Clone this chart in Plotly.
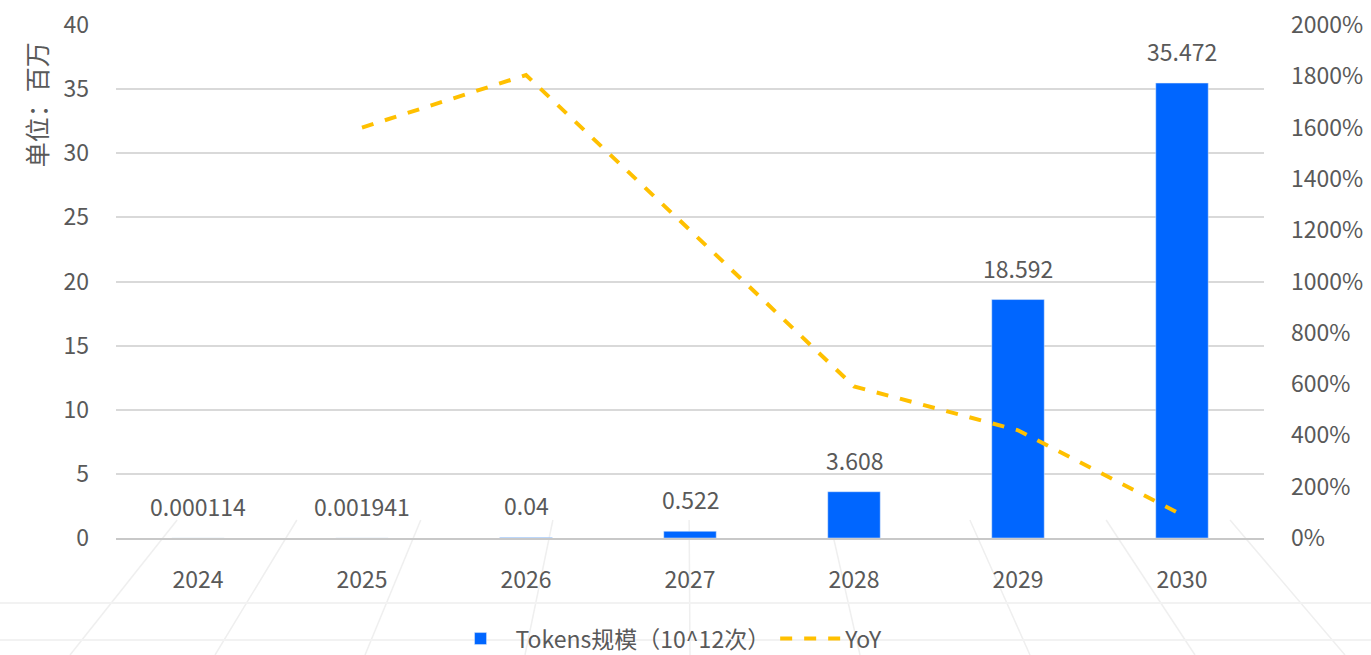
import plotly.graph_objects as go

years = ["2024", "2025", "2026", "2027", "2028", "2029", "2030"]
tokens = [0.000114, 0.001941, 0.04, 0.522, 3.608, 18.592, 35.472]
token_labels = ["0.000114", "0.001941", "0.04", "0.522", "3.608", "18.592", "35.472"]
yoy_years = ["2025", "2026", "2027", "2028", "2029", "2030"]
yoy = [16.0, 18.05, 12.0, 5.91, 4.2, 0.9]

FONT = "Noto Sans CJK SC"
GRAY = "#595959"
FS = 23

W, H = 1371, 655
ML, MR, MT, MB = 116, 107, 25, 117
PW, PH = W - ML - MR, H - MT - MB

fig = go.Figure()
fig.add_trace(go.Bar(
    x=years, y=tokens, name="Tokens规模（10^12次）",
    marker=dict(color="#0066FF"), width=0.32,
))
fig.add_trace(go.Scatter(
    x=yoy_years, y=yoy, name="YoY", yaxis="y2", mode="lines",
    line=dict(color="#FFC000", width=4, dash="dash"),
))
for i, (yv, lab) in enumerate(zip(tokens, token_labels)):
    fig.add_annotation(x=i, y=yv, xref="x", yref="y", text=lab, showarrow=False,
                       yanchor="middle", yshift=32,
                       font=dict(size=FS, color=GRAY, family=FONT))

# faint decorative perspective floor lines in the background
def px(x):
    return (x - ML) / PW
def py(y):
    return (H - MB - y) / PH
vx, vy = 685, -120
for bx in [-150, 70, 215, 365, 525, 690, 860, 1030, 1195, 1345, 1520]:
    ty = 520
    t = (H - ty) / (H - vy)
    tx = bx + (vx - bx) * t
    fig.add_shape(type="line", xref="paper", yref="paper",
                  x0=px(bx), y0=py(H), x1=px(tx), y1=py(ty),
                  line=dict(color="#efefef", width=1.5), layer="below")
for hy in [603, 640]:
    fig.add_shape(type="line", xref="paper", yref="paper",
                  x0=px(0), y0=py(hy), x1=px(W), y1=py(hy),
                  line=dict(color="#f2f2f2", width=2), layer="below")

fig.update_layout(
    width=W, height=H,
    margin=dict(l=ML, r=MR, t=MT, b=MB, autoexpand=False),
    paper_bgcolor="white", plot_bgcolor="rgba(0,0,0,0)",
    font=dict(family=FONT, color=GRAY, size=FS),
    xaxis=dict(type="category", categoryorder="array", categoryarray=years,
               showgrid=False, showline=True, linecolor="#c8c8c8", linewidth=2,
               tickfont=dict(size=FS, color=GRAY), ticks="", ticklabelstandoff=20,
               automargin=False),
    yaxis=dict(range=[0, 40], dtick=5, showgrid=True, gridcolor="#d9d9d9", gridwidth=2,
               zeroline=False, showline=False, tickfont=dict(size=FS, color=GRAY),
               ticks="", ticklabelstandoff=26, automargin=False),
    yaxis2=dict(range=[0, 20], dtick=2, overlaying="y", side="right", showgrid=False,
                zeroline=False, tickformat=".0%", tickfont=dict(size=FS, color=GRAY),
                ticks="", ticklabelstandoff=26, automargin=False),
    legend=dict(orientation="h", x=0.48, xanchor="center", yref="container", y=0.025,
                yanchor="middle", font=dict(size=FS, color=GRAY, family=FONT),
                itemwidth=60, tracegroupgap=0, bgcolor="rgba(0,0,0,0)"),
    showlegend=True,
)
fig.add_annotation(text="单位：百万", xref="paper", yref="paper", x=-0.07, y=0.845,
                   xanchor="center", yanchor="middle", textangle=-90, showarrow=False,
                   font=dict(size=25, color=GRAY, family=FONT))

fig.write_html("out.html")
